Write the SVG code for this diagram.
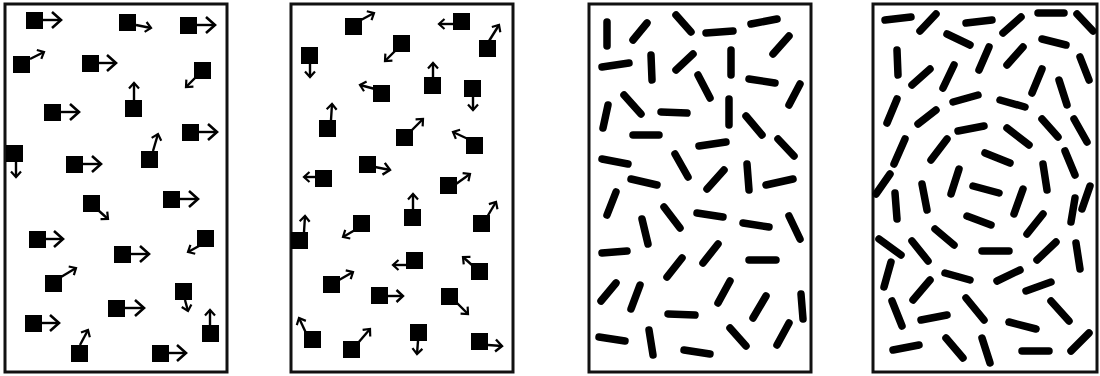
<svg xmlns="http://www.w3.org/2000/svg" width="1100" height="376" viewBox="0 0 1100 376">
<style>
.frame{fill:#fff;stroke:#111;stroke-width:3}
.sq{fill:#000}
.ar{stroke:#000;stroke-width:2.4;fill:none}
.b{marker-end:url(#ab)}
.s{marker-end:url(#as)}
.m{marker-end:url(#am)}
.r line{stroke:#000;stroke-width:7.5;stroke-linecap:round}
</style>
<defs>
<marker id="ab" markerUnits="userSpaceOnUse" viewBox="-2 -11 14 22" markerWidth="14" markerHeight="22" refX="9" refY="0" orient="auto" overflow="visible"><path d="M0,-8 L9,0 L0,8" fill="none" stroke="#000" stroke-width="2.6"/></marker>
<marker id="am" markerUnits="userSpaceOnUse" viewBox="-2 -8 10 16" markerWidth="10" markerHeight="16" refX="6.5" refY="0" orient="auto" overflow="visible"><path d="M0,-6 L6.5,0 L0,6" fill="none" stroke="#000" stroke-width="2.4"/></marker>
<marker id="as" markerUnits="userSpaceOnUse" viewBox="-2 -7 9 14" markerWidth="9" markerHeight="14" refX="5.5" refY="0" orient="auto" overflow="visible"><path d="M0,-5 L5.5,0 L0,5" fill="none" stroke="#000" stroke-width="2.2"/></marker>
</defs>
<rect width="1100" height="376" fill="#fff"/>

<g id="panel1">
<rect class="frame" x="5" y="4" width="222" height="368"/>
<g class="sq">
<rect x="26" y="12" width="17" height="17"/><rect x="119" y="14" width="17" height="17"/><rect x="180" y="17" width="17" height="17"/>
<rect x="13" y="56" width="17" height="17"/><rect x="82" y="55" width="17" height="17"/><rect x="194" y="62" width="17" height="17"/>
<rect x="125" y="100" width="17" height="17"/><rect x="44" y="104" width="17" height="17"/><rect x="182" y="124" width="17" height="17"/>
<rect x="6" y="145" width="17" height="17"/><rect x="66" y="156" width="17" height="17"/><rect x="141" y="151" width="17" height="17"/>
<rect x="83" y="195" width="17" height="17"/><rect x="163" y="191" width="17" height="17"/><rect x="29" y="231" width="17" height="17"/>
<rect x="197" y="230" width="17" height="17"/><rect x="114" y="246" width="17" height="17"/><rect x="45" y="275" width="17" height="17"/>
<rect x="175" y="283" width="17" height="17"/><rect x="108" y="300" width="17" height="17"/><rect x="25" y="315" width="17" height="17"/>
<rect x="202" y="325" width="17" height="17"/><rect x="71" y="345" width="17" height="17"/><rect x="152" y="345" width="17" height="17"/>
</g>
<g class="ar">
<line class="b" x1="43" y1="20" x2="61" y2="20"/>
<line class="s" x1="136" y1="25" x2="151" y2="28"/>
<line class="b" x1="197" y1="25" x2="215" y2="25"/>
<line class="s" x1="30" y1="59" x2="44" y2="52"/>
<line class="b" x1="99" y1="63" x2="116" y2="63"/>
<line class="s" x1="196" y1="77" x2="186" y2="87"/>
<line class="s" x1="134" y1="100" x2="134" y2="83"/>
<line class="b" x1="61" y1="112" x2="79" y2="112"/>
<line class="b" x1="199" y1="132" x2="217" y2="132"/>
<line class="s" x1="16" y1="162" x2="16" y2="177"/>
<line class="b" x1="83" y1="164" x2="101" y2="164"/>
<line class="s" x1="153" y1="151" x2="158" y2="134"/>
<line class="s" x1="98" y1="210" x2="108" y2="219"/>
<line class="b" x1="180" y1="199" x2="198" y2="199"/>
<line class="b" x1="46" y1="239" x2="63" y2="239"/>
<line class="s" x1="199" y1="246" x2="188" y2="252"/>
<line class="b" x1="131" y1="254" x2="149" y2="254"/>
<line class="s" x1="61" y1="277" x2="76" y2="268"/>
<line class="s" x1="185" y1="300" x2="188" y2="311"/>
<line class="b" x1="125" y1="308" x2="144" y2="308"/>
<line class="b" x1="42" y1="323" x2="59" y2="323"/>
<line class="s" x1="210" y1="325" x2="210" y2="310"/>
<line class="s" x1="80" y1="345" x2="88" y2="330"/>
<line class="b" x1="169" y1="353" x2="186" y2="353"/>
</g>
</g>

<g id="panel2">
<rect class="frame" x="291" y="4" width="222" height="368"/>
<g class="sq">
<rect x="345" y="18" width="17" height="17"/><rect x="453" y="13" width="17" height="17"/><rect x="479" y="40" width="17" height="17"/>
<rect x="393" y="35" width="17" height="17"/><rect x="301" y="47" width="17" height="17"/><rect x="424" y="77" width="17" height="17"/>
<rect x="464" y="80" width="17" height="17"/><rect x="373" y="85" width="17" height="17"/><rect x="319" y="120" width="17" height="17"/>
<rect x="396" y="129" width="17" height="17"/><rect x="466" y="137" width="17" height="17"/><rect x="359" y="156" width="17" height="17"/>
<rect x="315" y="170" width="17" height="17"/><rect x="440" y="177" width="17" height="17"/><rect x="404" y="209" width="17" height="17"/>
<rect x="473" y="215" width="17" height="17"/><rect x="353" y="215" width="17" height="17"/><rect x="291" y="232" width="17" height="17"/>
<rect x="406" y="252" width="17" height="17"/><rect x="471" y="263" width="17" height="17"/><rect x="323" y="276" width="17" height="17"/>
<rect x="371" y="287" width="17" height="17"/><rect x="441" y="288" width="17" height="17"/><rect x="410" y="324" width="17" height="17"/>
<rect x="304" y="331" width="17" height="17"/><rect x="343" y="341" width="17" height="17"/><rect x="471" y="333" width="17" height="17"/>
</g>
<g class="ar">
<line class="s" x1="361" y1="20" x2="374" y2="13"/>
<line class="s" x1="453" y1="24" x2="439" y2="24"/>
<line class="s" x1="489" y1="41" x2="499" y2="25"/>
<line class="s" x1="395" y1="51" x2="385" y2="61"/>
<line class="s" x1="310" y1="64" x2="310" y2="77"/>
<line class="s" x1="433" y1="77" x2="433" y2="63"/>
<line class="s" x1="473" y1="97" x2="473" y2="110"/>
<line class="s" x1="375" y1="89" x2="360" y2="85"/>
<line class="s" x1="331" y1="120" x2="332" y2="104"/>
<line class="s" x1="411" y1="131" x2="423" y2="119"/>
<line class="s" x1="468" y1="139" x2="453" y2="132"/>
<line class="m" x1="375" y1="167" x2="390" y2="170"/>
<line class="s" x1="316" y1="177" x2="304" y2="177"/>
<line class="s" x1="456" y1="184" x2="470" y2="174"/>
<line class="s" x1="413" y1="209" x2="413" y2="194"/>
<line class="s" x1="487" y1="217" x2="496" y2="202"/>
<line class="s" x1="355" y1="230" x2="343" y2="237"/>
<line class="s" x1="304" y1="232" x2="305" y2="216"/>
<line class="s" x1="406" y1="265" x2="393" y2="265"/>
<line class="s" x1="473" y1="266" x2="463" y2="257"/>
<line class="s" x1="339" y1="280" x2="353" y2="272"/>
<line class="m" x1="388" y1="296" x2="403" y2="296"/>
<line class="s" x1="457" y1="303" x2="468" y2="314"/>
<line class="s" x1="418" y1="341" x2="417" y2="354"/>
<line class="s" x1="306" y1="333" x2="299" y2="318"/>
<line class="s" x1="358" y1="343" x2="370" y2="329"/>
<line class="m" x1="488" y1="345" x2="502" y2="346"/>
</g>
</g>

<g id="panel3">
<rect class="frame" x="589" y="4" width="222" height="368"/>
<g class="r">
<line x1="607" y1="22" x2="607" y2="46"/>
<line x1="633" y1="40" x2="647" y2="23"/>
<line x1="676" y1="15" x2="691" y2="32"/>
<line x1="706" y1="33" x2="733" y2="31"/>
<line x1="751" y1="24" x2="777" y2="19"/>
<line x1="773" y1="54" x2="789" y2="36"/>
<line x1="602" y1="67" x2="629" y2="63"/>
<line x1="651" y1="55" x2="652" y2="80"/>
<line x1="676" y1="70" x2="693" y2="54"/>
<line x1="731" y1="50" x2="731" y2="75"/>
<line x1="749" y1="79" x2="775" y2="83"/>
<line x1="698" y1="75" x2="710" y2="98"/>
<line x1="789" y1="105" x2="800" y2="84"/>
<line x1="624" y1="95" x2="641" y2="114"/>
<line x1="661" y1="112" x2="687" y2="113"/>
<line x1="608" y1="105" x2="603" y2="128"/>
<line x1="729" y1="99" x2="729" y2="125"/>
<line x1="746" y1="116" x2="762" y2="135"/>
<line x1="633" y1="135" x2="659" y2="135"/>
<line x1="778" y1="139" x2="794" y2="156"/>
<line x1="699" y1="146" x2="726" y2="142"/>
<line x1="602" y1="159" x2="628" y2="164"/>
<line x1="675" y1="154" x2="688" y2="177"/>
<line x1="747" y1="164" x2="749" y2="190"/>
<line x1="707" y1="189" x2="724" y2="170"/>
<line x1="766" y1="185" x2="793" y2="179"/>
<line x1="631" y1="179" x2="657" y2="185"/>
<line x1="607" y1="215" x2="616" y2="192"/>
<line x1="664" y1="207" x2="680" y2="228"/>
<line x1="697" y1="213" x2="723" y2="217"/>
<line x1="743" y1="223" x2="769" y2="227"/>
<line x1="789" y1="216" x2="800" y2="239"/>
<line x1="642" y1="219" x2="648" y2="244"/>
<line x1="602" y1="253" x2="627" y2="251"/>
<line x1="703" y1="263" x2="718" y2="244"/>
<line x1="749" y1="260" x2="776" y2="260"/>
<line x1="667" y1="277" x2="682" y2="258"/>
<line x1="601" y1="301" x2="616" y2="283"/>
<line x1="631" y1="309" x2="640" y2="285"/>
<line x1="718" y1="303" x2="730" y2="281"/>
<line x1="668" y1="314" x2="695" y2="315"/>
<line x1="753" y1="318" x2="766" y2="296"/>
<line x1="801" y1="294" x2="803" y2="319"/>
<line x1="599" y1="337" x2="625" y2="341"/>
<line x1="649" y1="330" x2="653" y2="355"/>
<line x1="684" y1="350" x2="710" y2="354"/>
<line x1="730" y1="328" x2="746" y2="346"/>
<line x1="777" y1="345" x2="789" y2="323"/>
</g>
</g>

<g id="panel4">
<rect class="frame" x="873" y="4" width="224" height="368"/>
<g class="r">
<line x1="885" y1="20" x2="911" y2="17"/>
<line x1="920" y1="31" x2="936" y2="14"/>
<line x1="966" y1="23" x2="992" y2="20"/>
<line x1="1003" y1="33" x2="1021" y2="17"/>
<line x1="1038" y1="13" x2="1064" y2="13"/>
<line x1="1077" y1="14" x2="1093" y2="31"/>
<line x1="947" y1="34" x2="970" y2="45"/>
<line x1="897" y1="50" x2="898" y2="75"/>
<line x1="979" y1="70" x2="989" y2="47"/>
<line x1="1007" y1="65" x2="1023" y2="47"/>
<line x1="1042" y1="39" x2="1066" y2="45"/>
<line x1="912" y1="85" x2="930" y2="69"/>
<line x1="943" y1="88" x2="954" y2="65"/>
<line x1="1080" y1="57" x2="1089" y2="80"/>
<line x1="1032" y1="93" x2="1042" y2="69"/>
<line x1="1059" y1="80" x2="1067" y2="105"/>
<line x1="953" y1="102" x2="978" y2="95"/>
<line x1="1000" y1="100" x2="1025" y2="107"/>
<line x1="887" y1="123" x2="897" y2="99"/>
<line x1="918" y1="124" x2="936" y2="110"/>
<line x1="958" y1="131" x2="984" y2="126"/>
<line x1="1042" y1="119" x2="1058" y2="137"/>
<line x1="1074" y1="119" x2="1087" y2="142"/>
<line x1="1007" y1="128" x2="1029" y2="145"/>
<line x1="894" y1="164" x2="905" y2="139"/>
<line x1="931" y1="160" x2="947" y2="139"/>
<line x1="985" y1="153" x2="1010" y2="163"/>
<line x1="1043" y1="164" x2="1047" y2="190"/>
<line x1="1065" y1="151" x2="1075" y2="175"/>
<line x1="876" y1="194" x2="890" y2="174"/>
<line x1="951" y1="194" x2="959" y2="169"/>
<line x1="895" y1="193" x2="897" y2="219"/>
<line x1="922" y1="184" x2="927" y2="210"/>
<line x1="973" y1="186" x2="999" y2="193"/>
<line x1="1014" y1="214" x2="1023" y2="189"/>
<line x1="1071" y1="222" x2="1075" y2="198"/>
<line x1="1082" y1="209" x2="1090" y2="186"/>
<line x1="967" y1="216" x2="991" y2="225"/>
<line x1="1027" y1="234" x2="1043" y2="214"/>
<line x1="935" y1="229" x2="954" y2="245"/>
<line x1="879" y1="239" x2="901" y2="255"/>
<line x1="912" y1="241" x2="928" y2="261"/>
<line x1="982" y1="251" x2="1009" y2="251"/>
<line x1="1037" y1="260" x2="1056" y2="242"/>
<line x1="1076" y1="243" x2="1080" y2="269"/>
<line x1="884" y1="287" x2="891" y2="262"/>
<line x1="945" y1="273" x2="970" y2="280"/>
<line x1="997" y1="281" x2="1020" y2="270"/>
<line x1="1026" y1="291" x2="1051" y2="282"/>
<line x1="913" y1="300" x2="930" y2="280"/>
<line x1="892" y1="301" x2="902" y2="326"/>
<line x1="966" y1="298" x2="984" y2="320"/>
<line x1="1051" y1="301" x2="1069" y2="321"/>
<line x1="921" y1="320" x2="947" y2="315"/>
<line x1="1009" y1="322" x2="1036" y2="329"/>
<line x1="893" y1="350" x2="919" y2="345"/>
<line x1="946" y1="338" x2="963" y2="358"/>
<line x1="982" y1="338" x2="990" y2="363"/>
<line x1="1022" y1="351" x2="1049" y2="351"/>
<line x1="1071" y1="351" x2="1089" y2="333"/>
</g>
</g>
</svg>
